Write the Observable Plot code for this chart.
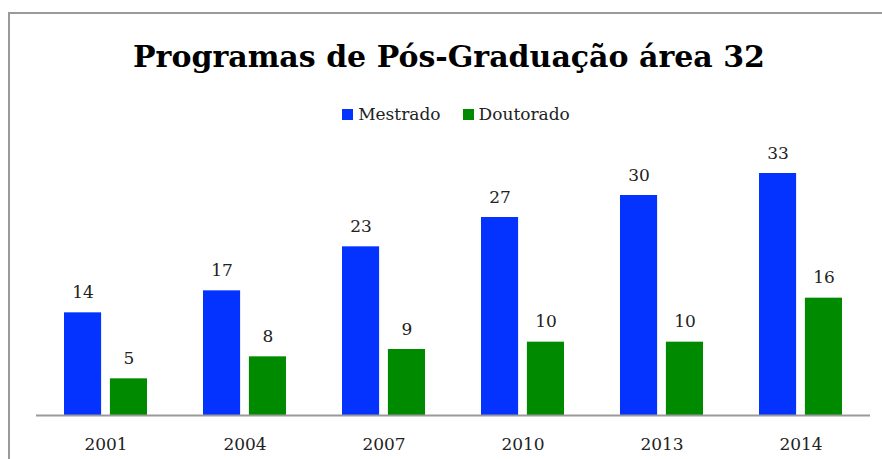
<!DOCTYPE html>
<html>
<head>
<meta charset="utf-8">
<script src="https://cdn.jsdelivr.net/npm/d3@7"></script>
<script src="https://cdn.jsdelivr.net/npm/@observablehq/plot@0.6"></script>
<style>
  html, body { margin: 0; padding: 0; background: #fff; }
  #wrap { position: relative; width: 882px; height: 459px; overflow: hidden; background: #fff; }
  #frame { position: absolute; left: 8px; top: 12px; width: 900px; height: 500px;
           border-top: 2px solid #9a9a9a; border-left: 2px solid #9a9a9a; box-sizing: border-box; }
  #title { position: absolute; left: 0; width: 898px; top: 35px; text-align: center;
           font-family: "DejaVu Serif", serif; font-weight: bold; font-size: 30px; color: #000; line-height: 44px; }
  #legend { position: absolute; left: 0; width: 912px; top: 102px; display: flex; justify-content: center;
            font-family: "DejaVu Serif", serif; font-size: 17px; color: #222; line-height: 24px; }
  .item { display: flex; align-items: center; margin: 0 11px; }
  .sw { width: 11px; height: 11px; margin-right: 5px; }
  #chart { position: absolute; left: 0; top: 130px; }
</style>
</head>
<body>
<div id="wrap">
  <div id="frame"></div>
  <div id="title">Programas de Pós-Graduação área 32</div>
  <div id="legend"></div>
  <div id="chart"></div>
</div>
<script>
const years = ["2001", "2004", "2007", "2010", "2013", "2014"];
const mestrado = [14, 17, 23, 27, 30, 33];
const doutorado = [5, 8, 9, 10, 10, 16];
const seriesNames = ["Mestrado", "Doutorado"];
const seriesColors = ["#0433ff", "#008a00"];

const rowsM = years.map((y, i) => ({year: y, value: mestrado[i]}));
const rowsD = years.map((y, i) => ({year: y, value: doutorado[i]}));

// legend
const legend = document.getElementById("legend");
seriesNames.forEach((n, i) => {
  const it = document.createElement("div");
  it.className = "item";
  const sw = document.createElement("div");
  sw.className = "sw";
  sw.style.background = seriesColors[i];
  const t = document.createElement("span");
  t.textContent = n;
  it.appendChild(sw); it.appendChild(t);
  legend.appendChild(it);
});

const W = 882, H = 329;
const mL = 36, mR = 12;
const pInner = 0.4, pOuter = 0.2;
const step = (W - mL - mR) / (years.length - pInner + 2 * pOuter);
const bw = step * (1 - pInner);
const barW = 37.5;
const inset = bw - barW;
const off = (bw - barW) / 2;

const fontLab = "DejaVu Serif, serif";

const chart = Plot.plot({
  width: W,
  height: H,
  marginLeft: mL,
  marginRight: mR,
  marginTop: 43,
  marginBottom: 44,
  x: {domain: years, paddingInner: pInner, paddingOuter: pOuter, align: 0.5, label: null},
  y: {domain: [0, 33], axis: null},
  style: {background: "transparent"},
  marks: [
    Plot.barY(rowsM, {x: "year", y: "value", fill: seriesColors[0], insetRight: inset}),
    Plot.barY(rowsD, {x: "year", y: "value", fill: seriesColors[1], insetLeft: inset}),
    Plot.text(rowsM, {x: "year", y: "value", text: d => String(d.value), dx: -off, dy: -15,
      lineAnchor: "bottom", fontSize: 17, fontFamily: fontLab, fill: "#222"}),
    Plot.text(rowsD, {x: "year", y: "value", text: d => String(d.value), dx: off, dy: -15,
      lineAnchor: "bottom", fontSize: 17, fontFamily: fontLab, fill: "#222"}),
    Plot.ruleY([0], {stroke: "#9a9a9a", strokeWidth: 2}),
    Plot.axisX({tickSize: 0, tickPadding: 22, fontSize: 17, fontFamily: fontLab, fill: "#222", label: null})
  ]
});
document.getElementById("chart").appendChild(chart);
</script>
</body>
</html>
